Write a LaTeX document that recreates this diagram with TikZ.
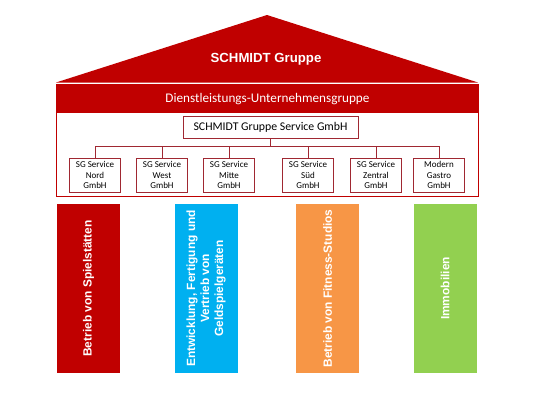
\documentclass[tikz,border=0pt]{standalone}
\usepackage{fontspec}
\setmainfont{Liberation Sans}
\newfontfamily\calib{Carlito}
\definecolor{hred}{RGB}{192,0,0}
\definecolor{bred}{RGB}{160,40,50}
\definecolor{pblue}{RGB}{0,176,240}
\definecolor{porange}{RGB}{247,150,70}
\definecolor{pgreen}{RGB}{146,208,80}
\begin{document}
\begin{tikzpicture}[x=1pt,y=-1pt,
  child/.style={draw=bred,line width=1pt,fill=white,minimum width=51pt,minimum height=34pt,inner sep=0pt,align=center,font=\calib\fontsize{9}{10.3}\selectfont},
  conn/.style={draw=bred,line width=1pt},
  pillar/.style={rotate=90,minimum width=169pt,minimum height=63pt,inner sep=2pt,align=center,text=white,font=\bfseries\fontsize{11.9}{14}\selectfont}]
\useasboundingbox (0,0) rectangle (533,400);
% roof
\fill[hred] (56,82.5) -- (267,15) -- (478,82.5) -- cycle;
\node[text=white,font=\bfseries\fontsize{13.2}{15}\selectfont] (roof) at (266,59) {SCHMIDT Gruppe};
% container
\draw[hred,line width=1.3pt,fill=white] (56.5,85) rectangle (478.5,196.5);
\fill[hred] (56.5,85) rectangle (478.5,113);
\node[text=white,font=\calib\fontsize{13.2}{15}\selectfont] (hdr) at (267.5,99.5) {Dienstleistungs-Unternehmensgruppe};
\node[draw=bred,line width=1pt,minimum width=175pt,minimum height=22pt,inner sep=0pt,font=\calib\fontsize{11.8}{14}\selectfont] (p) at (270.5,127) {SCHMIDT Gruppe Service GmbH};
\node[child] (c1) at (95,175) {SG Service\\Nord\\GmbH};
\node[child] (c2) at (162,175) {SG Service\\West\\GmbH};
\node[child] (c3) at (229,175) {SG Service\\Mitte\\GmbH};
\node[child] (c4) at (308,175) {SG Service\\Süd\\GmbH};
\node[child] (c5) at (376,175) {SG Service\\Zentral\\GmbH};
\node[child] (c6) at (439,175) {Modern\\Gastro\\GmbH};
\foreach \c in {c1,c2,c3,c4,c5,c6}
  \draw[conn] (p.south) -- ++(0,8) -| (\c.north);
% pillars
\node[pillar,fill=hred] (s1) at (88.5,288.5) {Betrieb von Spielstätten};
\node[pillar,fill=pblue] (s2) at (206,288.5) {Entwicklung, Fertigung und\\Vertrieb von\\Geldspielgeräten};
\node[pillar,fill=porange] (s3) at (327.5,288.5) {Betrieb von Fitness-Studios};
\node[pillar,fill=pgreen] (s4) at (445,288.5) {Immobilien};
\end{tikzpicture}
\end{document}
